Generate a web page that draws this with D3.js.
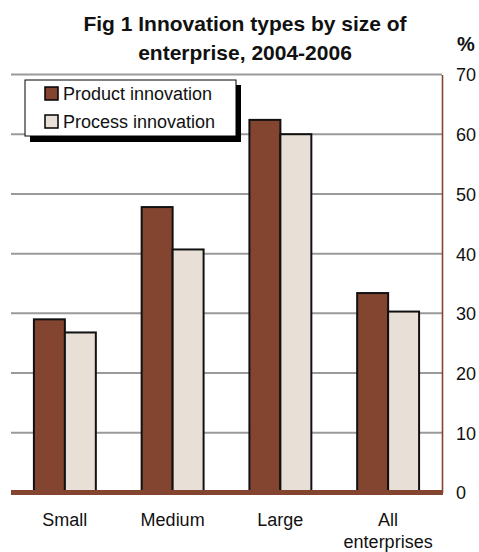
<!DOCTYPE html>
<html><head><meta charset="utf-8">
<script src="https://cdn.jsdelivr.net/npm/d3@7"></script>
<style>body{margin:0;background:#fff}svg{display:block}text{font-family:"Liberation Sans",Arial,sans-serif}</style>
</head><body>
<script>
const categories = [["Small"], ["Medium"], ["Large"], ["All", "enterprises"]];
const seriesNames = ["Product innovation", "Process innovation"];
const productValues = [29.0, 47.8, 62.4, 33.4];
const processValues = [26.8, 40.7, 60.0, 30.3];
const yTicks = [0, 10, 20, 30, 40, 50, 60, 70];
const titleLines = ["Fig 1 Innovation types by size of", "enterprise, 2004-2006"];
const colors = ["#834530", "#e8e0d7"];

(function () {
const W = 479, H = 552;
const pLeft = 11, pRight = 442, pTop = 74.5, pBottom = 492.5;
const svg = d3.select("body").append("svg").attr("width", W).attr("height", H);

const y = d3.scaleLinear().domain([0, 70]).range([pBottom, pTop]);
const x0 = d3.scaleBand().domain(d3.range(categories.length)).range([pLeft, pRight]).padding(0);
const x1 = d3.scaleBand().domain([0, 1]).range([0, x0.bandwidth()]).paddingInner(0).paddingOuter(0.74);

// title
svg.append("g").selectAll("text").data(titleLines).join("text")
  .attr("x", 245).attr("y", (d, i) => 31 + i * 29)
  .attr("text-anchor", "middle").attr("font-weight", "bold").attr("font-size", 21)
  .attr("fill", "#111").text(d => d);
svg.append("text").attr("x", 457).attr("y", 51).attr("font-weight", "bold")
  .attr("font-size", 20).attr("fill", "#111").text("%");

// gridlines
svg.append("g").selectAll("line").data(yTicks.filter(t => t > 0)).join("line")
  .attr("x1", pLeft).attr("x2", pRight).attr("y1", d => y(d)).attr("y2", d => y(d))
  .attr("stroke", "#9a9a9a").attr("stroke-width", 2);

// right axis
const axis = d3.axisRight(y).tickValues(yTicks).tickSize(0).tickPadding(14).tickFormat(d3.format("d"));
const ag = svg.append("g").attr("transform", `translate(${pRight},0)`).call(axis);
ag.select(".domain").attr("stroke", "#834530").attr("stroke-width", 1.6);
ag.selectAll("text").attr("font-size", 18).attr("fill", "#111")
  .attr("font-family", '"Liberation Sans",Arial,sans-serif').attr("dy", "0.36em");

// bars
const data = categories.map((c, i) => ({i, vals: [productValues[i], processValues[i]]}));
const groups = svg.append("g").selectAll("g").data(data).join("g")
  .attr("transform", d => `translate(${x0(d.i)},0)`);
groups.selectAll("rect").data(d => d.vals.map((v, k) => ({v, k}))).join("rect")
  .attr("x", d => x1(d.k)).attr("width", x1.bandwidth())
  .attr("y", d => y(d.v)).attr("height", d => y(0) - y(d.v))
  .attr("fill", d => colors[d.k]).attr("stroke", "#111").attr("stroke-width", 2);

// baseline
svg.append("line").attr("x1", pLeft).attr("x2", pRight + 1).attr("y1", y(0)).attr("y2", y(0))
  .attr("stroke", "#834530").attr("stroke-width", 5);

// category labels
const cl = svg.append("g").selectAll("text").data(categories).join("text")
  .attr("text-anchor", "middle").attr("font-size", 18).attr("fill", "#111")
  .attr("x", (d, i) => x0(i) + x0.bandwidth() / 2).attr("y", 526);
cl.selectAll("tspan").data(d => d).join("tspan")
  .attr("x", function() { return d3.select(this.parentNode).attr("x"); })
  .attr("dy", (d, i) => i === 0 ? 0 : 22).text(d => d);

// legend
const lg = svg.append("g");
lg.append("rect").attr("x", 30).attr("y", 85).attr("width", 211).attr("height", 57).attr("fill", "#000");
lg.append("rect").attr("x", 25).attr("y", 80).attr("width", 211).attr("height", 56)
  .attr("fill", "#fff").attr("stroke", "#000").attr("stroke-width", 1);
const li = lg.selectAll("g.item").data(seriesNames).join("g").attr("class", "item")
  .attr("transform", (d, i) => `translate(45,${87 + i * 28})`);
li.append("rect").attr("width", 13).attr("height", 13).attr("fill", (d, i) => colors[i])
  .attr("stroke", "#000").attr("stroke-width", 1.5);
li.append("text").attr("x", 18).attr("y", 13).attr("font-size", 18).attr("fill", "#111").text(d => d);
})();
</script>
</body></html>
